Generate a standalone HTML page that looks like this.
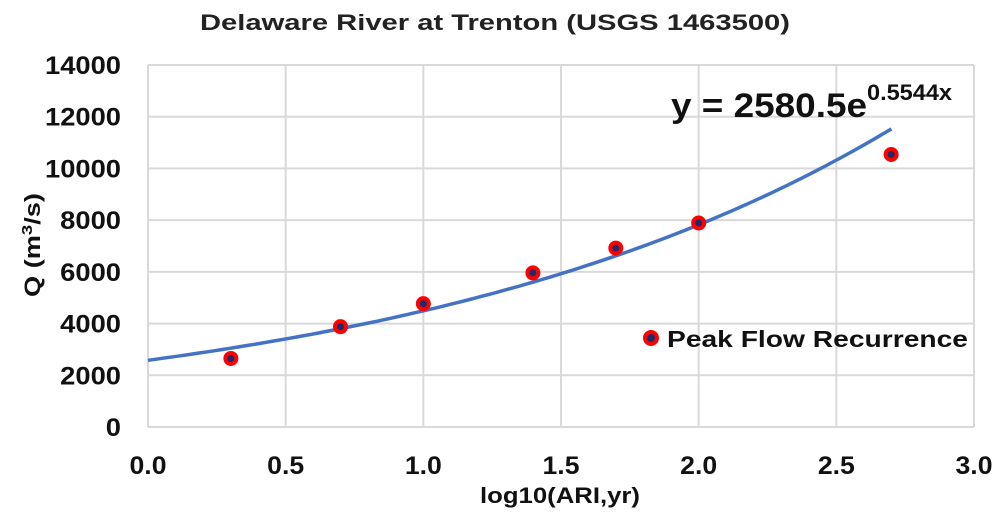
<!DOCTYPE html>
<html><head><meta charset="utf-8"><style>
body{margin:0;background:#fff;}
svg{display:block;font-family:"Liberation Sans",Arial,sans-serif;font-weight:bold;}
</style></head><body>
<svg width="1000" height="521" viewBox="0 0 1000 521">
<text x="200" y="30" textLength="590" lengthAdjust="spacingAndGlyphs" font-size="22" fill="#222">Delaware River at Trenton (USGS 1463500)</text>
<g id="grid"></g>
<g id="ticks"></g>
<text transform="translate(40,297) rotate(-90)" textLength="104" lengthAdjust="spacingAndGlyphs" font-size="22" fill="#111">Q (m<tspan baseline-shift="super" font-size="15">3</tspan>/s)</text>
<text x="480" y="503" textLength="160" lengthAdjust="spacingAndGlyphs" font-size="22" fill="#111">log10(ARI,yr)</text>
<path id="fit" fill="none" stroke="#4472c4" stroke-width="3.5"/>
<g id="pts"></g>
<text x="671" y="117" font-size="34" fill="#111"><tspan textLength="196" lengthAdjust="spacingAndGlyphs">y = 2580.5e</tspan><tspan font-size="22" dy="-17" textLength="85" lengthAdjust="spacingAndGlyphs">0.5544x</tspan></text>
<circle cx="651" cy="338" r="6" fill="#1f2a6b" stroke="#f00" stroke-width="4"/>
<text x="667" y="347" textLength="301" lengthAdjust="spacingAndGlyphs" font-size="23" fill="#111">Peak Flow Recurrence</text>
</svg>
<script>
const xTicks=[0,0.5,1,1.5,2,2.5,3];
const yTicks=[0,2000,4000,6000,8000,10000,12000,14000];
const xs=[0.301,0.699,1.0,1.398,1.699,2.0,2.699];
const ys=[2650,3880,4770,5960,6920,7890,10540];
const fitA=2580.5, fitB=0.5544, fitMax=2.7;
const NS="http://www.w3.org/2000/svg";
const X=v=>148+v*(974-148)/3, Y=v=>427-v*(427-65)/14000;
const grid=document.getElementById('grid'),ticks=document.getElementById('ticks'),pts=document.getElementById('pts');
function mk(tag,a,p){const e=document.createElementNS(NS,tag);for(const k in a)e.setAttribute(k,a[k]);p.appendChild(e);return e;}
xTicks.forEach(t=>{
 const l=mk('line',{x1:X(t),x2:X(t),y1:65,y2:427,stroke:'#d9d9d9','stroke-width':2},grid);
 
 
 const s=mk('text',{x:X(t)-18.5,y:474,textLength:37,lengthAdjust:'spacingAndGlyphs','font-size':25,fill:'#111'},ticks);s.textContent=t.toFixed(1);
 
 
});
yTicks.forEach(t=>{
 const str=String(t), w=str.length*15.2;
 const s=mk('text',{x:121-w,y:Y(t)+9,textLength:w,lengthAdjust:'spacingAndGlyphs','font-size':25,fill:'#111'},ticks);s.textContent=str;
 
 
 const l=mk('line',{x1:148,x2:974,y1:Y(t),y2:Y(t),stroke:'#d9d9d9','stroke-width':2},grid);
 
 
});
let d='';for(let i=0;i<=100;i++){const x=fitMax*i/100;d+=(i?'L':'M')+X(x).toFixed(1)+','+Y(fitA*Math.exp(fitB*x)).toFixed(1);}
document.getElementById('fit').setAttribute('d',d);
xs.forEach((x,i)=>{
 const c=mk('circle',{cx:X(x),cy:Y(ys[i]),r:5.5,fill:'#1f2a6b',stroke:'#f00','stroke-width':4},pts);
 
 
});
</script>
</body></html>
